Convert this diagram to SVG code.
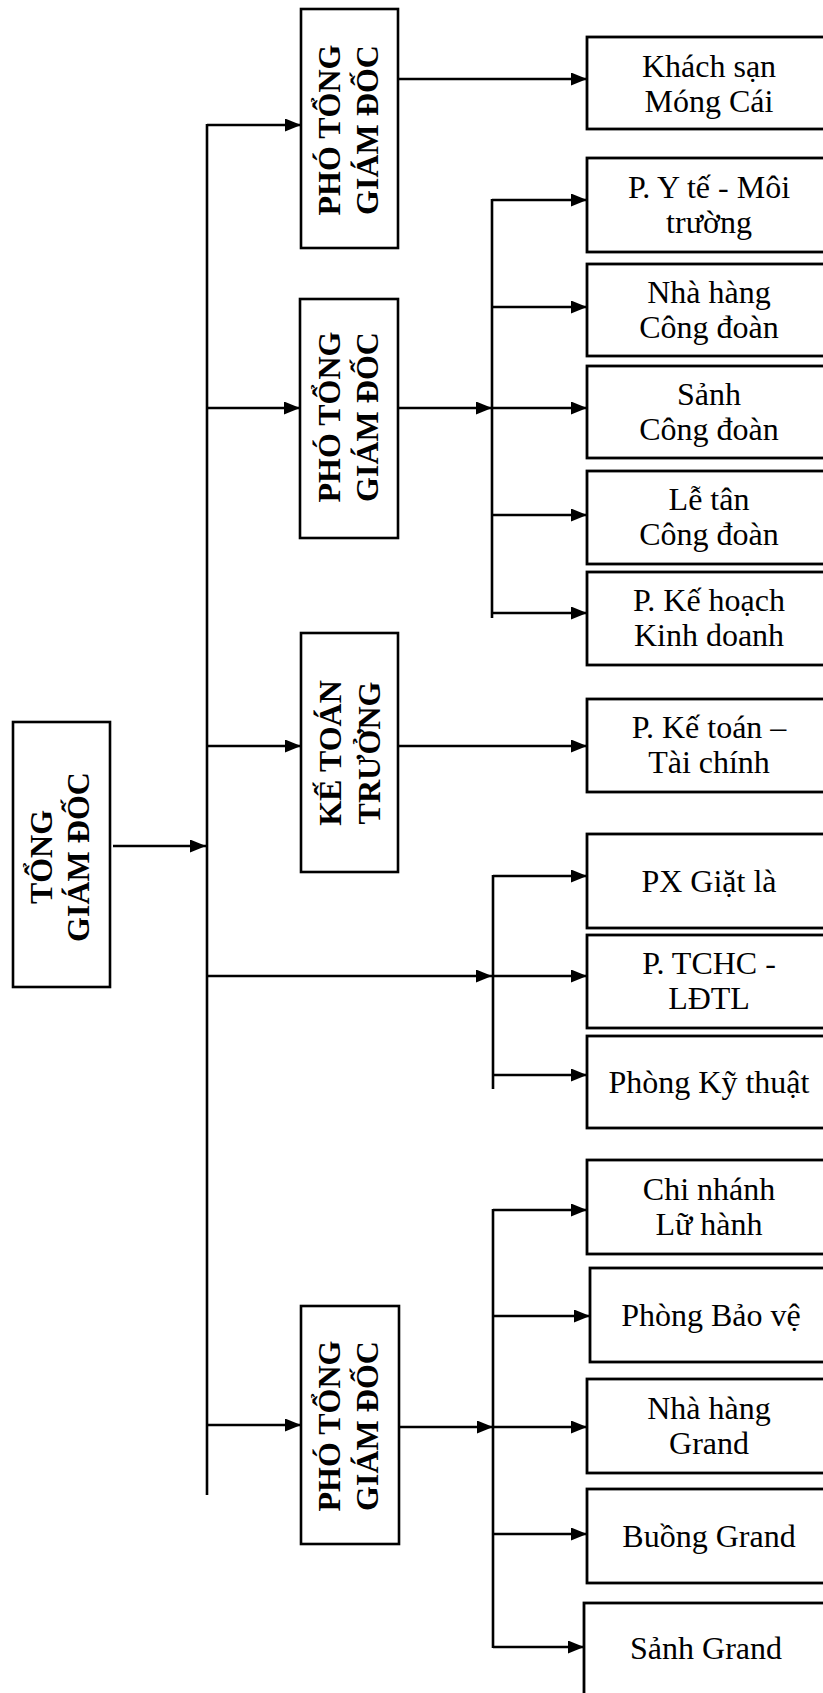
<svg xmlns="http://www.w3.org/2000/svg" width="823" height="1693" viewBox="0 0 823 1693">
<style>
.box{fill:#fff;stroke:#000;stroke-width:2.6}
.rbox{fill:#fff;stroke:#000;stroke-width:2.8}
.bt{font-family:"Liberation Serif","Times New Roman",serif;font-size:32px;font-weight:bold;fill:#000;text-anchor:middle}
.t{font-family:"Liberation Serif","Times New Roman",serif;font-size:32px;fill:#000;text-anchor:middle}
.ln{fill:none;stroke:#000;stroke-width:2.6}
.ar{fill:none;stroke:#000;stroke-width:2.6;marker-end:url(#ah)}
</style>
<defs>
<marker id="ah" markerUnits="userSpaceOnUse" markerWidth="17" markerHeight="14" refX="16" refY="6.5" orient="auto">
<path d="M0,0 L16,6.5 L0,13 z" fill="#000"/>
</marker>
</defs>
<rect width="823" height="1693" fill="#fff"/>

<g id="connectors">
<line class="ln" x1="207" y1="124" x2="207" y2="1495"/>
<line class="ar" x1="113" y1="846" x2="206" y2="846"/>
<line class="ar" x1="207" y1="125" x2="301" y2="125"/>
<line class="ar" x1="207" y1="408" x2="300" y2="408"/>
<line class="ar" x1="207" y1="746" x2="301" y2="746"/>
<line class="ar" x1="207" y1="976" x2="492" y2="976"/>
<line class="ar" x1="207" y1="1425" x2="301" y2="1425"/>
<line class="ar" x1="399" y1="79" x2="587" y2="79"/>
<line class="ar" x1="399" y1="408" x2="492" y2="408"/>
<line class="ar" x1="399" y1="746" x2="587" y2="746"/>
<line class="ar" x1="400" y1="1427" x2="493" y2="1427"/>
<line class="ln" x1="492" y1="199" x2="492" y2="618"/>
<line class="ar" x1="492" y1="200" x2="587" y2="200"/>
<line class="ar" x1="492" y1="307" x2="587" y2="307"/>
<line class="ar" x1="492" y1="408" x2="587" y2="408"/>
<line class="ar" x1="492" y1="515" x2="587" y2="515"/>
<line class="ar" x1="492" y1="613" x2="587" y2="613"/>
<line class="ln" x1="493" y1="875" x2="493" y2="1089"/>
<line class="ar" x1="493" y1="876" x2="587" y2="876"/>
<line class="ar" x1="493" y1="976" x2="587" y2="976"/>
<line class="ar" x1="493" y1="1075" x2="587" y2="1075"/>
<line class="ln" x1="493" y1="1209" x2="493" y2="1648"/>
<line class="ar" x1="493" y1="1210" x2="587" y2="1210"/>
<line class="ar" x1="493" y1="1316" x2="590" y2="1316"/>
<line class="ar" x1="493" y1="1427" x2="587" y2="1427"/>
<line class="ar" x1="493" y1="1534" x2="587" y2="1534"/>
<line class="ar" x1="493" y1="1647" x2="584" y2="1647"/>
</g>

<g id="tgd">
<rect class="box" x="13" y="722" width="97" height="265"/>
<text class="bt" transform="translate(52,857) rotate(-90)">TỔNG</text>
<text class="bt" transform="translate(89,857) rotate(-90)">GIÁM ĐỐC</text>
</g>

<g id="ptgd1">
<rect class="box" x="301" y="9" width="97" height="239"/>
<text class="bt" transform="translate(340,130) rotate(-90)">PHÓ TỔNG</text>
<text class="bt" transform="translate(378,130) rotate(-90)">GIÁM ĐỐC</text>
</g>

<g id="ptgd2">
<rect class="box" x="300" y="299" width="98" height="239"/>
<text class="bt" transform="translate(340,417) rotate(-90)">PHÓ TỔNG</text>
<text class="bt" transform="translate(378,417) rotate(-90)">GIÁM ĐỐC</text>
</g>

<g id="ktt">
<rect class="box" x="301" y="633" width="97" height="239"/>
<text class="bt" transform="translate(341,753) rotate(-90)">KẾ TOÁN</text>
<text class="bt" transform="translate(380,753) rotate(-90)">TRƯỞNG</text>
</g>

<g id="ptgd3">
<rect class="box" x="301" y="1306" width="98" height="238"/>
<text class="bt" transform="translate(340,1426) rotate(-90)">PHÓ TỔNG</text>
<text class="bt" transform="translate(378,1426) rotate(-90)">GIÁM ĐỐC</text>
</g>

<g id="khach-san">
<rect class="rbox" x="587" y="37" width="260" height="92"/>
<text class="t" x="709" y="77">Khách sạn</text>
<text class="t" x="709" y="112">Móng Cái</text>
</g>
<g id="y-te">
<rect class="rbox" x="587" y="158" width="260" height="94"/>
<text class="t" x="709" y="198">P. Y tế - Môi</text>
<text class="t" x="709" y="233">trường</text>
</g>
<g id="nha-hang-cd">
<rect class="rbox" x="587" y="264" width="260" height="92"/>
<text class="t" x="709" y="303">Nhà hàng</text>
<text class="t" x="709" y="338">Công đoàn</text>
</g>
<g id="sanh-cd">
<rect class="rbox" x="587" y="366" width="260" height="92"/>
<text class="t" x="709" y="405">Sảnh</text>
<text class="t" x="709" y="440">Công đoàn</text>
</g>
<g id="le-tan-cd">
<rect class="rbox" x="587" y="471" width="260" height="93"/>
<text class="t" x="709" y="510">Lễ tân</text>
<text class="t" x="709" y="545">Công đoàn</text>
</g>
<g id="ke-hoach">
<rect class="rbox" x="587" y="572" width="260" height="93"/>
<text class="t" x="709" y="611">P. Kế hoạch</text>
<text class="t" x="709" y="646">Kinh doanh</text>
</g>
<g id="ke-toan">
<rect class="rbox" x="587" y="699" width="260" height="93"/>
<text class="t" x="709" y="738">P. Kế toán –</text>
<text class="t" x="709" y="773">Tài chính</text>
</g>
<g id="giat-la">
<rect class="rbox" x="587" y="834" width="260" height="94"/>
<text class="t" x="709" y="892">PX Giặt là</text>
</g>
<g id="tchc">
<rect class="rbox" x="587" y="935" width="260" height="93"/>
<text class="t" x="709" y="974">P. TCHC -</text>
<text class="t" x="709" y="1009">LĐTL</text>
</g>
<g id="ky-thuat">
<rect class="rbox" x="587" y="1036" width="260" height="92"/>
<text class="t" x="709" y="1093">Phòng Kỹ thuật</text>
</g>
<g id="chi-nhanh">
<rect class="rbox" x="587" y="1160" width="260" height="94"/>
<text class="t" x="709" y="1200">Chi nhánh</text>
<text class="t" x="709" y="1235">Lữ hành</text>
</g>
<g id="bao-ve">
<rect class="rbox" x="590" y="1268" width="260" height="94"/>
<text class="t" x="711" y="1326">Phòng Bảo vệ</text>
</g>
<g id="nha-hang-grand">
<rect class="rbox" x="587" y="1379" width="260" height="94"/>
<text class="t" x="709" y="1419">Nhà hàng</text>
<text class="t" x="709" y="1454">Grand</text>
</g>
<g id="buong-grand">
<rect class="rbox" x="587" y="1489" width="260" height="94"/>
<text class="t" x="709" y="1547">Buồng Grand</text>
</g>
<g id="sanh-grand">
<rect class="rbox" x="584" y="1603" width="260" height="120"/>
<text class="t" x="706" y="1659">Sảnh Grand</text>
</g>
</svg>
